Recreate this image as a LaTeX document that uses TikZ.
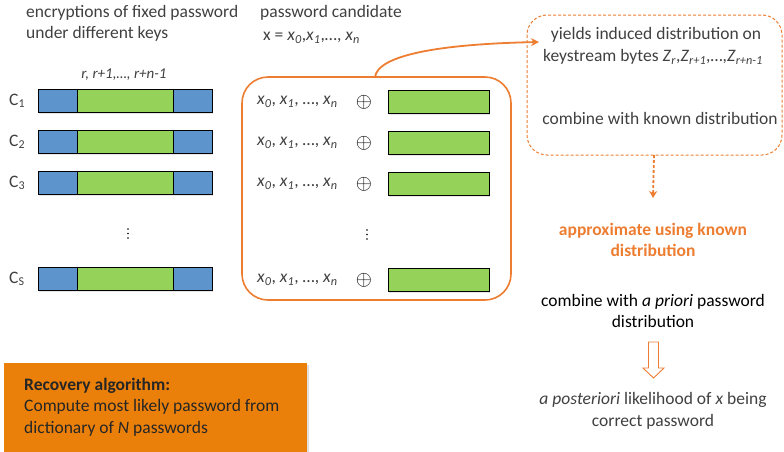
\documentclass[tikz,border=0pt]{standalone}
\usepackage{fontspec}
\setmainfont{Carlito}
\usetikzlibrary{arrows.meta,shadows}
\definecolor{txtgray}{RGB}{64,64,64}
\definecolor{lineorange}{RGB}{237,125,49}
\definecolor{boxorange}{RGB}{234,128,10}
\definecolor{barblue}{RGB}{93,148,204}
\definecolor{bargreen}{RGB}{148,210,90}
\newcommand{\xsub}[1]{\textit{x}\textsubscript{\textit{#1}}}
\newcommand{\zsub}[1]{\textit{Z}\textsubscript{\textit{#1}}}
\newcommand{\xrow}{\xsub{0}, \xsub{1}, \dots, \xsub{n}}
\newcommand{\csub}[1]{C\raisebox{-1.5pt}{\fontsize{12}{12}\selectfont #1}}
\begin{document}
\begin{tikzpicture}[x=1pt,y=-1pt,
  every node/.style={font=\fontsize{17.5}{21.5}\selectfont, text=txtgray, inner sep=0pt},
  cell/.style={draw=black, line width=0.8pt, minimum height=23pt, anchor=north west,
    drop shadow={opacity=0.2, shadow xshift=1pt, shadow yshift=-1.5pt}},
  bluecell/.style={cell, fill=barblue, minimum width=39pt},
  greencell/.style={cell, fill=bargreen},
  clabel/.style={anchor=west},
  xlabel/.style={anchor=west},
  oplus/.style={anchor=center, font=\fontsize{22}{22}\selectfont, text=black},
  dotpt/.style={fill=black, circle, minimum size=1.8pt}
]
\useasboundingbox (0,0) rectangle (784,451);

% column headings
\node[anchor=north west, align=left] (head1) at (26,5)
  {encryptions of fixed password\\under different keys};
\node[anchor=north west] (head2) at (260,5) {password candidate};
\node[anchor=west] (cand) at (263,38) {x = \xsub{0},\xsub{1},\dots, \xsub{n}};
\node[font=\itshape\fontsize{15}{15}\selectfont] (pos) at (124,75) {r, r+1,\dots, r+n-1};

% ciphertext rows
\foreach \i/\y/\lab in {1/89/\csub{1}, 2/130/\csub{2}, 3/171/\csub{3}, s/267/\csub{S}} {
  \node[bluecell] (bl\i) at (38,\y) {};
  \node[bluecell] (br\i) at (173,\y) {};
  \node[greencell, minimum width=96pt] (g\i) at (77,\y) {};
  \node[clabel] (c\i) at (9,\y+12) {\lab};
}
\foreach \d in {0,1,2} \node[dotpt] (cd\d) at (128,229+4.5*\d) {};

% candidate box
\draw[lineorange, line width=1.6pt, rounded corners=26pt] (242,77) rectangle (511,300);
\node (bigtop) at (375,77) {};
\foreach \i/\y in {1/90, 2/131, 3/172, s/268} {
  \node[xlabel] (x\i) at (257,\y+12) {\xrow};
  \node[oplus] (o\i) at (364,\y+12) {$\oplus$};
  \node[greencell, minimum width=101pt] (k\i) at (388,\y) {};
}
\foreach \d in {0,1,2} \node[dotpt] (kd\d) at (367,230+4.5*\d) {};

% induced distribution box
\draw[lineorange, line width=1pt, dash pattern=on 3pt off 2pt, rounded corners=20pt]
  (527,15) rectangle (782,155);
\node (dtop) at (656,35) {yields induced distribution on};
\node (dmid) at (653,57) {keystream bytes \zsub{r},\zsub{r+1},\dots,\zsub{r+n-1}};
\node (dbot) at (660,118) {combine with known distribution};
\node (dboxbot) at (654,155) {};
\coordinate (darrow) at (539,42);

\draw[lineorange, line width=1.8pt, -{Stealth[length=8pt,width=8pt]}]
  (bigtop.center) .. controls (378,55) and (440,44) .. (darrow);

% approximation chain
\node[font=\bfseries\fontsize{17.5}{21.5}\selectfont, text=lineorange, align=center]
  (approx) at (653,240) {approximate using known\\distribution};
\draw[lineorange, line width=1.8pt, dash pattern=on 3pt off 2pt,
  -{Stealth[length=7pt,width=8pt]}] (dboxbot.center) -- (653,198);
\node[text=black, align=center] (prior) at (653,311)
  {combine with \textit{a priori} password\\distribution};
\node[align=center] (post) at (653,411)
  {\textit{a posteriori} likelihood of \textit{x} being\\correct password};
\draw[lineorange, line width=0.9pt, fill=white]
  (648.5,342) -- (658.5,342) -- (658.5,368) -- (664,368) -- (653.5,378)
  -- (643,368) -- (648.5,368) -- cycle;

% recovery algorithm box
\node[fill=boxorange, anchor=north west, minimum width=303pt, minimum height=92pt,
  drop shadow={opacity=0.25, shadow xshift=1.5pt, shadow yshift=-1.5pt}] (recbox) at (4,363) {};
\node[anchor=north west, align=left, text=black!85] (rectext) at (24,378)
  {\textbf{Recovery algorithm:}\\Compute most likely password from\\dictionary of \textit{N} passwords};
\end{tikzpicture}
\end{document}
